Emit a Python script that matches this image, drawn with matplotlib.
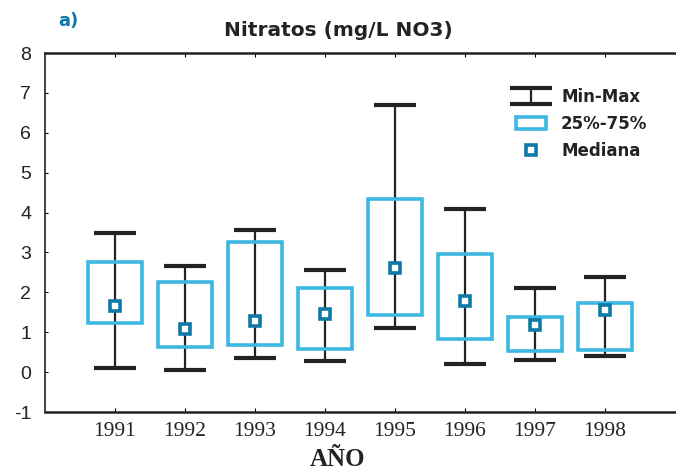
import matplotlib.pyplot as plt
from matplotlib.patches import Rectangle
from matplotlib.lines import Line2D

plt.rcParams['axes.unicode_minus'] = False

# valores
anios = [1991, 1992, 1993, 1994, 1995, 1996, 1997, 1998]
minimo = [0.10, 0.05, 0.35, 0.27, 1.10, 0.20, 0.30, 0.40]
maximo = [3.50, 2.66, 3.56, 2.55, 6.69, 4.09, 2.10, 2.38]
p25 = [1.23, 0.63, 0.68, 0.57, 1.43, 0.83, 0.53, 0.55]
p75 = [2.76, 2.27, 3.27, 2.10, 4.35, 2.97, 1.37, 1.74]
mediana = [1.65, 1.09, 1.27, 1.45, 2.62, 1.79, 1.19, 1.55]

azul = '#3db8e2'
azul_osc = '#0e78a6'
negro = '#232323'

fig = plt.figure(figsize=(6.76, 4.70), dpi=100)
ax = fig.add_axes([0.0666, 0.1234, 0.932, 0.7636])

# bigotes min-max
err = ax.errorbar(anios, minimo, yerr=[[0] * len(anios), [mx - mn for mx, mn in zip(maximo, minimo)]],
                  fmt='none', ecolor=negro, elinewidth=1.6, capsize=14.8, capthick=3, zorder=2)
# caja 25-75
ax.bar(anios, [b - a for a, b in zip(p25, p75)], bottom=p25, width=0.76,
       facecolor='none', edgecolor=azul, linewidth=2.6, zorder=3)
# mediana
ax.plot(anios, mediana, ls='none', marker='s', ms=6.5, mfc='white', mec=azul_osc, mew=2.6, zorder=4)

ax.set_xlim(1990, 1999)
ax.set_ylim(-1, 8)
ax.set_xticks(anios)
ax.set_yticks(range(-1, 9))

ax.spines['right'].set_visible(False)
ax.spines['top'].set_linewidth(1.8)
ax.spines['bottom'].set_linewidth(1.8)
ax.spines['left'].set_linewidth(1.2)
for s in ax.spines.values():
    s.set_color(negro)

ax.tick_params(axis='x', direction='in', length=3, width=0.8, top=True, pad=7)
ax.tick_params(axis='y', direction='in', length=2, width=0.8, pad=10)
for t in ax.get_xticklabels():
    t.set_fontfamily('Liberation Serif')
    t.set_fontsize(15.5)
    t.set_color(negro)
for t in ax.get_yticklabels():
    t.set_fontfamily('Liberation Sans')
    t.set_fontsize(14)
    t.set_color(negro)

h_box = Rectangle((0, 0), 1, 1, facecolor='none', edgecolor=azul, linewidth=2.6)
h_med = Line2D([], [], ls='none', marker='s', ms=6.5, mfc='white', mec=azul_osc, mew=2.6)
ax.legend([err, h_box, h_med], ['Min-Max', '25%-75%', 'Mediana'],
          loc='upper right', bbox_to_anchor=(0.98, 0.945), frameon=False,
          prop={'weight': 'bold', 'size': 12}, handlelength=1.8, handletextpad=0.9,
          labelspacing=0.55, labelcolor=negro)

fig.text(0.5, 0.936, 'Nitratos (mg/L NO3)', ha='center', va='center',
         fontsize=14.5, fontweight='bold', color=negro)
fig.text(0.086, 0.955, 'a)', ha='left', va='center', fontsize=13,
         fontweight='bold', color=azul_osc)
fig.text(0.5, 0.022, 'AÑO', ha='center', va='center', fontsize=18,
         fontweight='bold', fontfamily='Liberation Serif', color=negro)

fig.savefig('out.png', dpi=100)
